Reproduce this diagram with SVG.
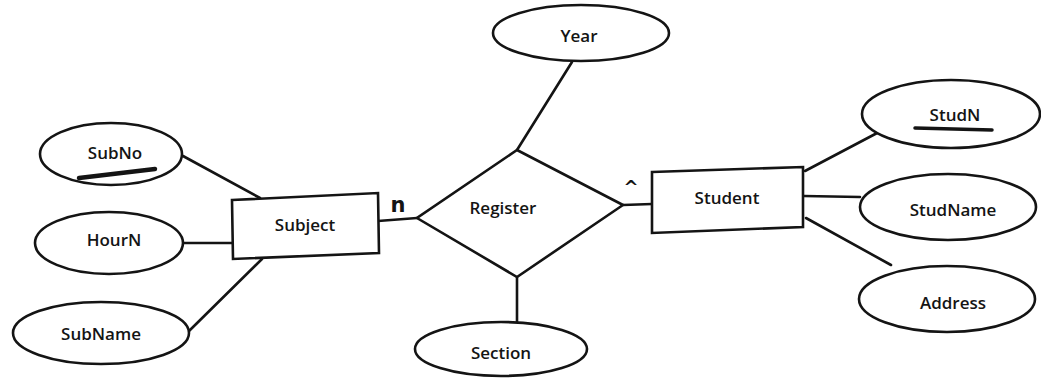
<svg xmlns="http://www.w3.org/2000/svg" width="1041" height="383" viewBox="0 0 1041 383">
  <style>
    .shape { fill: #ffffff; stroke: #141414; stroke-width: 2.6; }
    .link { stroke: #141414; stroke-width: 2.6; fill: none; stroke-linecap: round; }
    .label { font-family: "Open Sans", "DejaVu Sans", sans-serif; font-size: 17px; font-weight: 600; fill: #141414; text-anchor: middle; dominant-baseline: central; }
    .card { font-family: "DejaVu Sans", sans-serif; font-weight: bold; fill: #141414; text-anchor: middle; }
    .key { stroke: #141414; fill: none; stroke-linecap: round; }
  </style>
  <rect width="1041" height="383" fill="#ffffff"/>

  <!-- connectors -->
  <g id="connectors">
    <line class="link" x1="183" y1="156" x2="260" y2="198"/>
    <line class="link" x1="184" y1="243" x2="232" y2="243"/>
    <line class="link" x1="188" y1="332" x2="262" y2="259"/>
    <line class="link" x1="378" y1="221" x2="417" y2="218"/>
    <line class="link" x1="572" y1="62" x2="517" y2="150"/>
    <line class="link" x1="517" y1="277" x2="517" y2="322"/>
    <line class="link" x1="623" y1="205" x2="652" y2="204"/>
    <line class="link" x1="805" y1="171" x2="879" y2="132"/>
    <line class="link" x1="804" y1="196" x2="860" y2="197"/>
    <line class="link" x1="806" y1="218" x2="891" y2="265"/>
    <text class="card" x="398" y="212" font-size="21">n</text>
    <text class="card" x="631" y="193" font-size="18">^</text>
  </g>

  <!-- Subject entity and its attributes -->
  <g id="subject">
    <polygon class="shape" points="232,200 378,193 379,253 233,259"/>
    <text class="label" x="305" y="224">Subject</text>
  </g>
  <g id="subno">
    <ellipse class="shape" cx="111" cy="154" rx="71" ry="31"/>
    <text class="label" x="115" y="152">SubNo</text>
    <path class="key" stroke-width="4.5" d="M79,178 L155,169"/>
  </g>
  <g id="hourn">
    <ellipse class="shape" cx="109" cy="243" rx="74" ry="31"/>
    <text class="label" x="114" y="239">HourN</text>
  </g>
  <g id="subname">
    <ellipse class="shape" cx="101" cy="333" rx="88" ry="31"/>
    <text class="label" x="101" y="333">SubName</text>
  </g>

  <!-- Register relationship and its attributes -->
  <g id="register">
    <polygon class="shape" points="517,150 623,205 517,277 417,218"/>
    <text class="label" x="503" y="207">Register</text>
  </g>
  <g id="year">
    <ellipse class="shape" cx="581" cy="33" rx="88" ry="28"/>
    <text class="label" x="579" y="35">Year</text>
  </g>
  <g id="section">
    <ellipse class="shape" cx="501" cy="349" rx="86" ry="27"/>
    <text class="label" x="501" y="352">Section</text>
  </g>

  <!-- Student entity and its attributes -->
  <g id="student">
    <polygon class="shape" points="652,172 803,167 803,227 652,233"/>
    <text class="label" x="727" y="197">Student</text>
  </g>
  <g id="studn">
    <ellipse class="shape" cx="951" cy="114" rx="89" ry="34"/>
    <text class="label" x="955" y="114">StudN</text>
    <path class="key" stroke-width="3.5" d="M915,128 L992,130"/>
  </g>
  <g id="studname">
    <ellipse class="shape" cx="948" cy="207" rx="88" ry="33"/>
    <text class="label" x="953" y="209">StudName</text>
  </g>
  <g id="address">
    <ellipse class="shape" cx="947" cy="299" rx="88" ry="33"/>
    <text class="label" x="953" y="302">Address</text>
  </g>
</svg>
